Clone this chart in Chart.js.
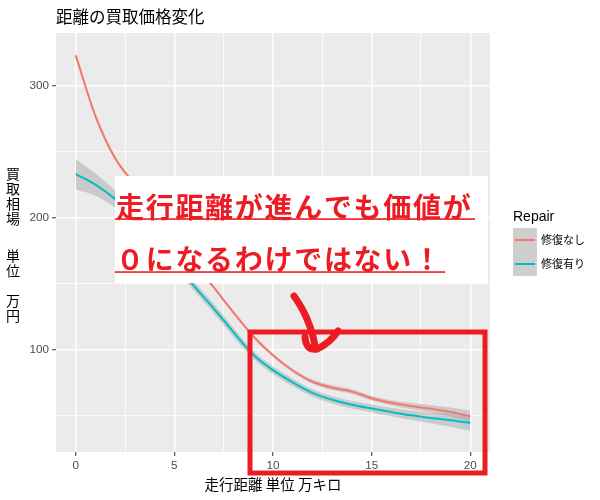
<!DOCTYPE html>
<html>
<head>
<meta charset="utf-8">
<script src="https://cdn.jsdelivr.net/npm/chart.js@4.4.1/dist/chart.umd.min.js"></script>
<style>
html,body{margin:0;padding:0;background:#ffffff;}
#wrap{width:600px;height:500px;}
</style>
</head>
<body>
<div id="wrap"><canvas id="c" width="600" height="500"></canvas></div>
<script>
// ---- data ----
const distance = [0,1,2,3,4,5,6,7,8,9,10,11,12,13,14,15,16,17,18,19,20];
const priceNoRepair = [323,277,245,225,205,185,166,147,128,110,95.5,84,75.5,71,68,63,59.5,57,55,52.5,49.3];
const seNoRepair    = [2,1.5,1.3,1.2,1.2,1.2,1.2,1.2,1.2,1.2,1.3,1.4,1.6,1.8,1.8,1.8,2,2.3,2.8,3.4,4.3];
const priceRepair   = [233,225,214,199,183,166,148,131,113,96,84.3,75,67,61.8,58,55.2,52.5,50,48,46.3,44.2];
const seRepair      = [11.5,8.5,6.5,5.5,4.5,4,3.5,3.5,3.5,3,3,3,2.8,2.8,2.8,3,3.2,3.5,4,5,6];
const seriesNames = ['修復なし','修復有り'];
const xGridValues = [0,2.5,5,7.5,10,12.5,15,17.5,20];
const xTickLabels = [0,5,10,15,20];
const yGridValues = [50,100,150,200,250,300];
const yTickLabels = [100,200,300];
const chartTitle = '距離の買取価格変化';
const xTitle = '走行距離 単位 万キロ';
const yTitleLines = [['買','取','相','場'],['単','位'],['万','円']];
const legendTitle = 'Repair';
const noteLines = ['走行距離が進んでも価値が','０になるわけではない！'];

const RED = '#F8766D', BLUE = '#00BFC4', MARK = '#ED1C24';
const BAND = 'rgba(153,153,153,0.4)';
const CJK = '"Noto Sans CJK JP", "Noto Sans", sans-serif';
const LAT = '"Liberation Sans", Arial, sans-serif';

function pts(vals, se, sign){
  return distance.map((x,i)=>({x:x, y: vals[i] + sign*(se ? se[i] : 0)}));
}
const bandStyle = {pointRadius:0, borderWidth:0, borderColor:'rgba(0,0,0,0)', cubicInterpolationMode:'monotone', order:2};

const decor = {
  id:'decor',
  beforeDraw(chart){
    const {ctx, chartArea:a} = chart;
    ctx.save();
    ctx.fillStyle = '#EBEBEB';
    ctx.fillRect(a.left, a.top, a.right-a.left, a.bottom-a.top);
    ctx.restore();
  },
  afterDraw(chart){
    const {ctx, chartArea:a} = chart;
    ctx.save();
    // plot title
    ctx.fillStyle = '#000';
    ctx.font = '16.5px ' + CJK;
    ctx.textBaseline = 'middle';
    ctx.textAlign = 'left';
    ctx.fillText(chartTitle, a.left, 17);
    // y axis title (vertical characters)
    ctx.font = '14px ' + CJK;
    ctx.textAlign = 'center';
    let y = 174;
    yTitleLines.forEach((grp, gi)=>{
      grp.forEach(ch=>{ ctx.fillText(ch, 13, y); y += 15; });
      y += gi === 0 ? 22 : 15;
    });
    // legend
    const lx = 513, ly = 228, kw = 24, kh = 24;
    ctx.textAlign = 'left';
    ctx.font = '14px ' + LAT;
    ctx.fillText(legendTitle, lx, 217);
    [RED, BLUE].forEach((col, i)=>{
      const ky = ly + i*kh;
      ctx.fillStyle = '#F2F2F2';
      ctx.fillRect(lx, ky, kw, kh);
      ctx.fillStyle = BAND;
      ctx.fillRect(lx, ky, kw, kh);
      ctx.strokeStyle = col; ctx.lineWidth = 2;
      ctx.beginPath(); ctx.moveTo(lx+2, ky+kh/2); ctx.lineTo(lx+kw-2, ky+kh/2); ctx.stroke();
      ctx.fillStyle = '#000';
      ctx.font = '11px ' + CJK;
      ctx.fillText(seriesNames[i], lx+kw+4, ky+kh/2);
    });
    // annotation box
    ctx.fillStyle = '#FFFFFF';
    ctx.fillRect(115, 176, 373, 107);
    ctx.fillStyle = MARK;
    ctx.font = 'bold 28px ' + CJK;
    ctx.textAlign = 'center';
    const pitch = 29.7;
    const lineY = [207, 259.5];
    const ulY = [219, 272];
    const ulEnd = [475, 445];
    noteLines.forEach((s, li)=>{
      [...s].forEach((ch, i)=>{ ctx.fillText(ch, 130 + i*pitch, lineY[li]); });
      ctx.fillRect(115, ulY[li]-0.75, ulEnd[li]-115, 1.6);
    });
    // red rectangle
    ctx.strokeStyle = MARK;
    ctx.lineWidth = 5;
    ctx.strokeRect(250, 332, 235, 141);
    // hand-drawn arrow
    ctx.lineWidth = 7;
    ctx.lineCap = 'round';
    ctx.lineJoin = 'round';
    ctx.beginPath();
    ctx.moveTo(294, 296);
    ctx.quadraticCurveTo(304, 310, 309, 324);
    ctx.quadraticCurveTo(314, 337, 315, 347);
    ctx.stroke();
    ctx.beginPath();
    ctx.moveTo(305, 337);
    ctx.quadraticCurveTo(306, 351, 317, 349);
    ctx.quadraticCurveTo(330, 343, 338, 331);
    ctx.stroke();
    ctx.restore();
  }
};

new Chart(document.getElementById('c'), {
  type:'line',
  data:{
    datasets:[
      Object.assign({label:'nr_hi', data:pts(priceNoRepair, seNoRepair, 1), fill:false}, bandStyle),
      Object.assign({label:'nr_lo', data:pts(priceNoRepair, seNoRepair, -1), fill:'-1', backgroundColor:BAND}, bandStyle),
      Object.assign({label:'r_hi', data:pts(priceRepair, seRepair, 1), fill:false}, bandStyle),
      Object.assign({label:'r_lo', data:pts(priceRepair, seRepair, -1), fill:'-1', backgroundColor:BAND}, bandStyle),
      {label:seriesNames[0], data:pts(priceNoRepair, null, 0), borderColor:RED, borderWidth:2, pointRadius:0, fill:false, cubicInterpolationMode:'monotone', order:1},
      {label:seriesNames[1], data:pts(priceRepair, null, 0), borderColor:BLUE, borderWidth:2, pointRadius:0, fill:false, cubicInterpolationMode:'monotone', order:1}
    ]
  },
  options:{
    responsive:false,
    animation:false,
    devicePixelRatio:1,
    layout:{padding:{top:33, right:110, left:0, bottom:0}},
    plugins:{legend:{display:false}, tooltip:{enabled:false}, title:{display:false}},
    scales:{
      x:{
        type:'linear', min:-1, max:21,
        afterBuildTicks(s){ s.ticks = xGridValues.map(v=>({value:v})); },
        afterFit(s){ s.height = 48; },
        grid:{
          color:'#FFFFFF',
          lineWidth:c=> (c.tick && xTickLabels.includes(c.tick.value)) ? 1.5 : 0.75,
          tickLength:4, tickWidth:1,
          tickColor:c=> (c.tick && xTickLabels.includes(c.tick.value)) ? '#333333' : 'rgba(0,0,0,0)'
        },
        border:{display:false},
        ticks:{
          autoSkip:false, maxRotation:0, padding:3, color:'#4D4D4D',
          font:{family:LAT, size:11.7},
          callback:v=> xTickLabels.includes(v) ? String(v) : ''
        },
        title:{display:true, text:xTitle, color:'#000', font:{family:CJK, size:14.5}, padding:{top:0, bottom:7}}
      },
      y:{
        type:'linear', min:22.2, max:340,
        afterBuildTicks(s){ s.ticks = yGridValues.map(v=>({value:v})); },
        afterFit(s){ s.width = 56; },
        grid:{
          color:'#FFFFFF',
          lineWidth:c=> (c.tick && yTickLabels.includes(c.tick.value)) ? 1.5 : 0.75,
          tickLength:4, tickWidth:1,
          tickColor:c=> (c.tick && yTickLabels.includes(c.tick.value)) ? '#333333' : 'rgba(0,0,0,0)'
        },
        border:{display:false},
        ticks:{
          autoSkip:false, padding:3, color:'#4D4D4D',
          font:{family:LAT, size:11.7},
          callback:v=> yTickLabels.includes(v) ? String(v) : ''
        }
      }
    }
  },
  plugins:[decor]
});
</script>
</body>
</html>
